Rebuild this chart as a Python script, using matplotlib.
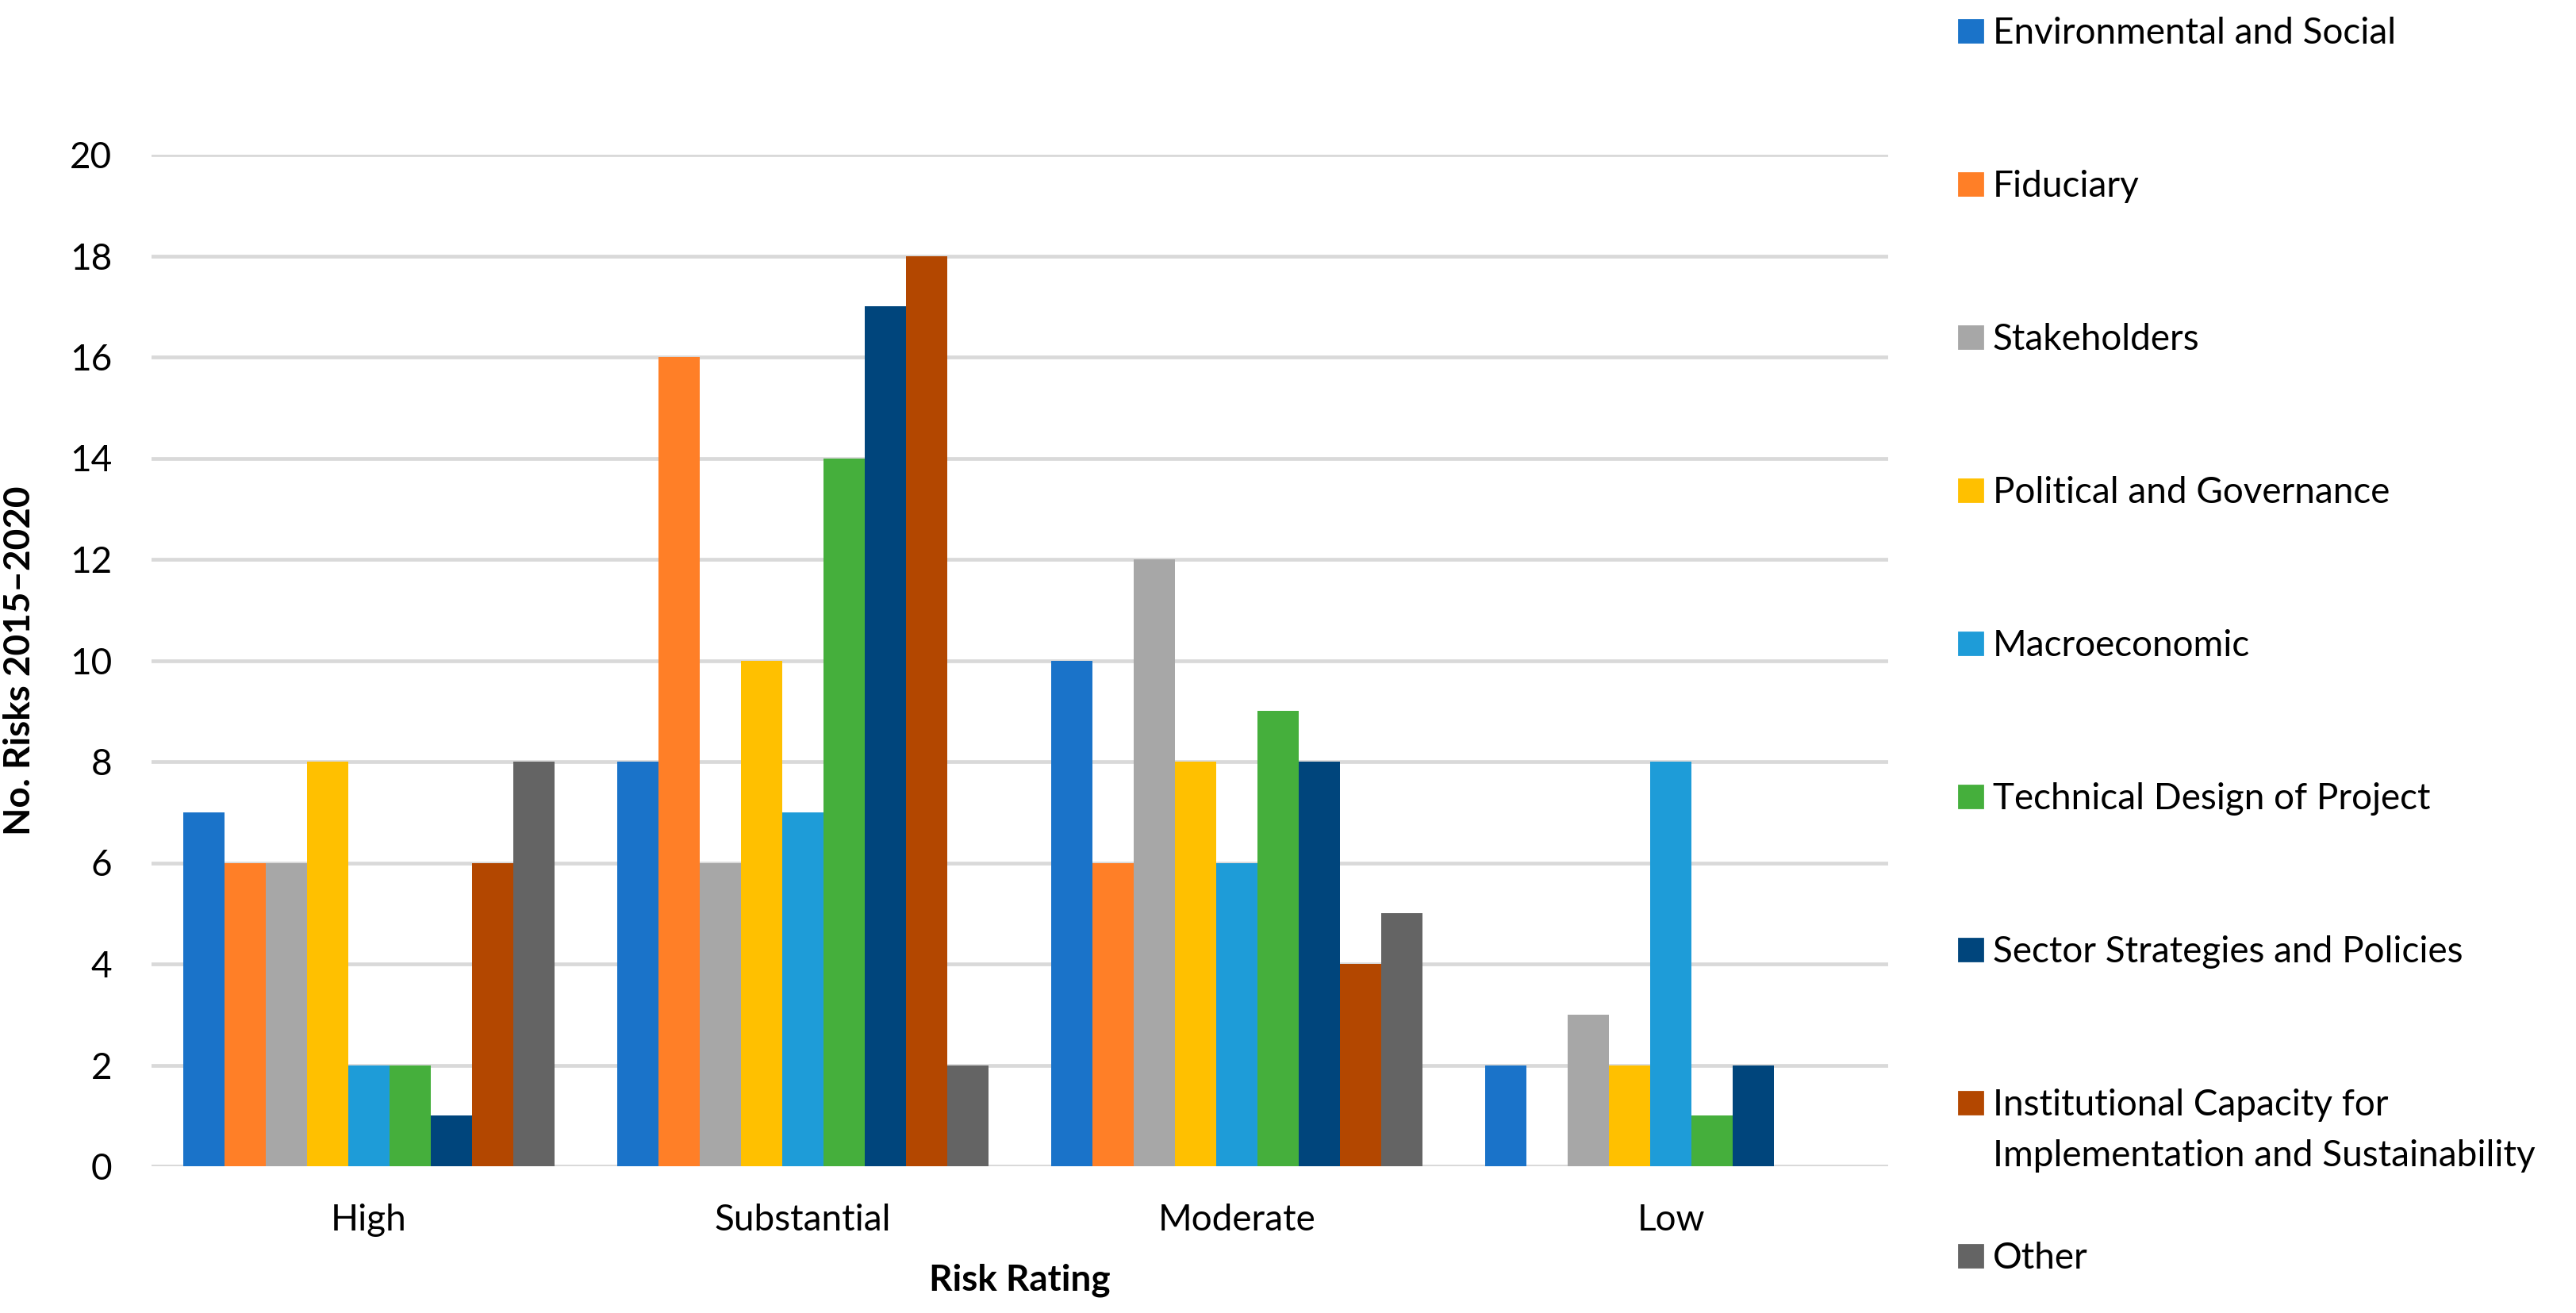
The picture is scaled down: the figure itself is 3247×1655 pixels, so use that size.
import numpy as np
import matplotlib
matplotlib.use("Agg")
import matplotlib.pyplot as plt
from matplotlib.patches import Rectangle

plt.rcParams["font.family"] = ["Lato", "DejaVu Sans"]

categories = ["High", "Substantial", "Moderate", "Low"]
series = [
    "Environmental and Social",
    "Fiduciary",
    "Stakeholders",
    "Political and Governance",
    "Macroeconomic",
    "Technical Design of Project",
    "Sector Strategies and Policies",
    "Institutional Capacity for\nImplementation and Sustainability",
    "Other",
]
env_social = [7, 8, 10, 2]
fiduciary = [6, 16, 6, 0]
stakeholders = [6, 6, 12, 3]
political = [8, 10, 8, 2]
macroeconomic = [2, 7, 6, 8]
technical = [2, 14, 9, 1]
sector = [1, 17, 8, 2]
institutional = [6, 18, 4, 0]
other = [8, 2, 5, 0]
values = [env_social, fiduciary, stakeholders, political, macroeconomic,
          technical, sector, institutional, other]
colors = ["#1A73C9", "#FF7F27", "#A7A7A7", "#FFC000", "#1E9CD8",
          "#45AF3C", "#00457C", "#B34700", "#646464"]

W, H = 3248, 1655
fig = plt.figure(figsize=(W / 200, H / 200), dpi=200)
ax = fig.add_axes([191 / W, 1 - 1470 / H, (2380 - 191) / W, (1470 - 195) / H])

fs = 16.5
x = np.arange(len(categories))
bw = 0.095
for j, (vals, c) in enumerate(zip(values, colors)):
    ax.bar(x + (j - 4) * bw, vals, width=bw, color=c, zorder=3)

ax.set_xlim(-0.5, 3.5)
ax.set_ylim(0, 20)
ax.set_yticks(range(0, 21, 2))
ax.set_xticks(x)
ax.set_xticklabels(categories)
ax.yaxis.grid(True, color="#D9D9D9", linewidth=1.7, zorder=0)
ax.axhline(0, color="#D9D9D9", linewidth=1.7, zorder=1)
for s in ax.spines.values():
    s.set_visible(False)
ax.tick_params(axis="both", length=0, labelsize=fs, colors="black")
ax.tick_params(axis="y", pad=18)
ax.tick_params(axis="x", pad=17)
ax.set_xlabel("Risk Rating", fontsize=fs, fontweight="bold", labelpad=12)
ax.set_ylabel("No. Risks 2015\u20132020", fontsize=fs, fontweight="bold", labelpad=14)
ax.yaxis.set_label_coords(-(191 - 46) / (2380 - 191), 0.5)

# legend drawn by hand to follow the original spacing
for i, (name, c) in enumerate(zip(series, colors)):
    yc = 39 + 193 * i
    fig.patches.append(Rectangle((2469 / W, 1 - (yc + 14) / H), 30 / W, 28 / H,
                                 transform=fig.transFigure, color=c))
    for k, line in enumerate(name.split("\n")):
        fig.text(2512 / W, 1 - (yc + 16 + 64 * k) / H, line, fontsize=fs,
                 va="baseline", ha="left")

fig.savefig("out.png", dpi=200)
